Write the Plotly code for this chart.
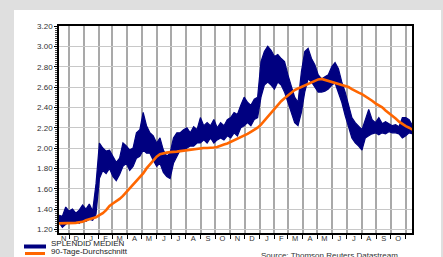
import plotly.graph_objects as go
import pandas as pd

# ---- data (weekly readings) ----
dates = pd.date_range("2009-11-10", periods=106, freq="7D")

band_low = [1.27, 1.22, 1.25, 1.27, 1.26, 1.28, 1.26, 1.29, 1.28, 1.30,
            1.29, 1.35, 1.70, 1.78, 1.75, 1.80, 1.72, 1.68, 1.74, 1.82,
            1.85, 1.78, 1.82, 1.90, 1.92, 1.98, 1.95, 1.95, 1.88, 1.82,
            1.85, 1.76, 1.72, 1.70, 1.85, 1.92, 1.98, 1.98, 2.00, 2.02,
            2.02, 2.05, 2.05, 2.08, 2.05, 2.10, 2.05, 2.08, 2.10, 2.08,
            2.12, 2.10, 2.15, 2.12, 2.20, 2.22, 2.25, 2.22, 2.28, 2.30,
            2.50, 2.62, 2.65, 2.62, 2.58, 2.65, 2.62, 2.55, 2.45, 2.35,
            2.25, 2.22, 2.35, 2.55, 2.68, 2.65, 2.60, 2.55, 2.55, 2.56,
            2.58, 2.62, 2.64, 2.55, 2.45, 2.32, 2.22, 2.10, 2.05, 2.02,
            1.98, 2.10, 2.12, 2.14, 2.15, 2.13, 2.15, 2.14, 2.16, 2.15,
            2.15, 2.14, 2.10, 2.12, 2.15, 2.14]

band_high = [1.34, 1.33, 1.42, 1.38, 1.40, 1.36, 1.39, 1.44, 1.40, 1.45,
             1.38, 1.65, 2.05, 2.00, 1.97, 1.98, 1.92, 1.86, 1.90, 2.05,
             2.02, 1.98, 2.00, 2.15, 2.18, 2.35, 2.22, 2.15, 2.12, 2.05,
             2.10, 1.98, 1.92, 1.95, 2.10, 2.15, 2.15, 2.18, 2.20, 2.15,
             2.21, 2.18, 2.30, 2.22, 2.25, 2.22, 2.28, 2.20, 2.25, 2.22,
             2.28, 2.30, 2.35, 2.33, 2.42, 2.50, 2.45, 2.42, 2.48, 2.50,
             2.85, 2.95, 3.00, 2.96, 2.90, 2.92, 2.88, 2.85, 2.72, 2.62,
             2.50, 2.45, 2.75, 2.95, 2.98, 2.88, 2.82, 2.72, 2.68, 2.70,
             2.72, 2.80, 2.84, 2.78, 2.65, 2.55, 2.42, 2.30, 2.25, 2.22,
             2.18, 2.28, 2.38, 2.28, 2.25, 2.30, 2.24, 2.26, 2.24, 2.22,
             2.23, 2.21, 2.30, 2.30, 2.28, 2.22]

avg90 = [1.26, 1.26, 1.26, 1.26, 1.26, 1.265, 1.27, 1.275, 1.29, 1.30,
         1.31, 1.32, 1.34, 1.36, 1.39, 1.43, 1.455, 1.475, 1.50, 1.53,
         1.565, 1.60, 1.635, 1.67, 1.71, 1.75, 1.80, 1.84, 1.88, 1.915,
         1.94, 1.95, 1.955, 1.96, 1.96, 1.965, 1.97, 1.975, 1.98, 1.985,
         1.99, 1.995, 2.00, 2.00, 2.00, 2.00, 2.005, 2.01, 2.025, 2.035,
         2.045, 2.06, 2.075, 2.09, 2.105, 2.12, 2.14, 2.16, 2.18, 2.20,
         2.23, 2.27, 2.31, 2.35, 2.39, 2.43, 2.46, 2.49, 2.52, 2.55,
         2.57, 2.585, 2.60, 2.61, 2.625, 2.645, 2.66, 2.675, 2.68, 2.67,
         2.66, 2.645, 2.635, 2.63, 2.62, 2.61, 2.60, 2.58, 2.56, 2.545,
         2.53, 2.51, 2.49, 2.465, 2.44, 2.42, 2.40, 2.37, 2.345, 2.32,
         2.29, 2.26, 2.235, 2.215, 2.20, 2.18]

month_tick_dates = ["2009-11-20", "2009-12-16", "2010-01-16", "2010-02-15",
                    "2010-03-16", "2010-04-16", "2010-05-16", "2010-06-16",
                    "2010-07-16", "2010-08-16", "2010-09-16", "2010-10-16",
                    "2010-11-16", "2010-12-16", "2011-01-16", "2011-02-15",
                    "2011-03-16", "2011-04-16", "2011-05-16", "2011-06-16",
                    "2011-07-16", "2011-08-16", "2011-09-16", "2011-10-16"]
month_labels = ["N", "D", "J", "F", "M", "A", "M", "J", "J", "A", "S", "O",
                "N", "D", "J", "F", "M", "A", "M", "J", "J", "A", "S", "O"]

series_names = ["SPLENDID MEDIEN", "90-Tage-Durchschnitt"]
source_text = "Source: Thomson Reuters Datastream"

# ---- layout geometry ----
W, H = 443, 257
L, R, T, B = 59, 31, 26, 24
PW, PH = W - L - R, H - T - B

def px(x):
    return (x - L) / PW

def py(y):
    return (H - B - y) / PH

NAVY = "#000080"
ORANGE = "#ff6600"
FONT = "Liberation Sans, Arial, sans-serif"

fig = go.Figure()
fig.add_trace(go.Scatter(x=dates, y=band_low, mode="lines",
                         line=dict(color=NAVY, width=1.2),
                         showlegend=False, hoverinfo="skip"))
fig.add_trace(go.Scatter(x=dates, y=band_high, mode="lines",
                         line=dict(color=NAVY, width=1.2),
                         fill="tonexty", fillcolor=NAVY,
                         name=series_names[0], showlegend=False))
fig.add_trace(go.Scatter(x=dates, y=avg90, mode="lines",
                         line=dict(color=ORANGE, width=2.6),
                         name=series_names[1], showlegend=False))

shapes = [
    dict(type="rect", xref="paper", yref="paper", layer="below",
         x0=px(14), x1=px(441), y0=py(257), y1=py(10),
         fillcolor="white", line=dict(width=0)),
    dict(type="line", xref="paper", yref="paper",
         x0=px(24), x1=px(46), y0=py(246.5), y1=py(246.5),
         line=dict(color=NAVY, width=4)),
    dict(type="line", xref="paper", yref="paper",
         x0=px(25), x1=px(45), y0=py(253.5), y1=py(253.5),
         line=dict(color=ORANGE, width=3)),
]

annotations = [
    dict(text=series_names[0], xref="paper", yref="paper",
         x=px(49), y=py(243.5), xanchor="left", yanchor="middle",
         showarrow=False, font=dict(family=FONT, size=8, color="#222")),
    dict(text=series_names[1], xref="paper", yref="paper",
         x=px(49), y=py(251), xanchor="left", yanchor="middle",
         showarrow=False, font=dict(family=FONT, size=8, color="#222")),
    dict(text=source_text, xref="paper", yref="paper",
         x=px(259), y=py(255), xanchor="left", yanchor="middle",
         showarrow=False, font=dict(family=FONT, size=8, color="#333")),
]

fig.update_layout(
    width=W, height=H,
    margin=dict(l=L, r=R, t=T, b=B, pad=0),
    paper_bgcolor="#dfdfdf",
    plot_bgcolor="white",
    showlegend=False,
    shapes=shapes,
    annotations=annotations,
    font=dict(family=FONT, size=8, color="#333"),
    xaxis=dict(
        type="date",
        range=["2009-11-10", "2011-11-14"],
        tickmode="array", tickvals=month_tick_dates, ticktext=month_labels,
        ticks="", showgrid=False,
        ticklabelstandoff=-3,
        tickfont=dict(family=FONT, size=7.5, color="#333"),
        showline=True, linecolor="black", linewidth=1.5, mirror=True,
        zeroline=False,
        minor=dict(dtick="M1", tick0="2009-12-01", showgrid=True,
                   gridcolor="#a9a9a9", gridwidth=1.6,
                   ticks="outside", ticklen=4, tickcolor="black", tickwidth=1),
    ),
    yaxis=dict(
        range=[1.165, 3.2],
        tick0=1.2, dtick=0.2, tickformat=".2f",
        showgrid=True, gridcolor="#c8c8c8", gridwidth=1.4,
        ticks="outside", ticklen=3, tickcolor="black",
        tickfont=dict(family=FONT, size=8, color="#333"),
        showline=True, linecolor="black", linewidth=1.5, mirror=True,
        zeroline=False,
        minor=dict(dtick=0.02, ticks="outside", ticklen=2,
                   tickcolor="#444", showgrid=False),
    ),
)

fig.write_html(
    "out.html",
    config={"displayModeBar": False},
    post_script="document.body.style.margin='0';document.body.style.overflow='hidden';",
)
